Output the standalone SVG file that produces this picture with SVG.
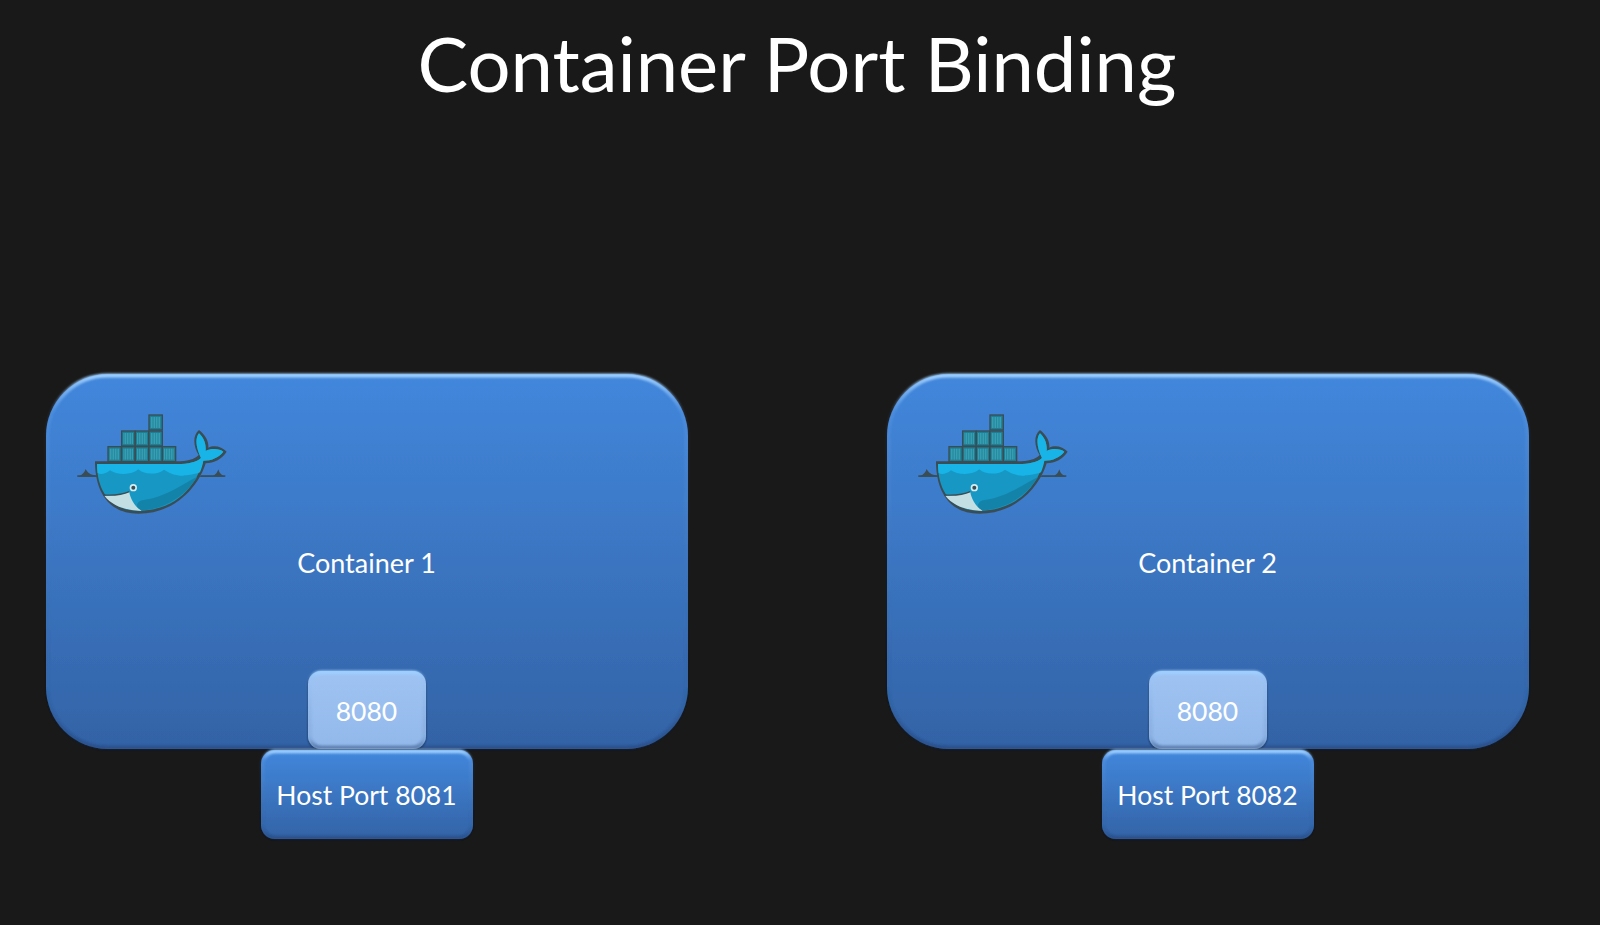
<svg xmlns="http://www.w3.org/2000/svg" width="1600" height="925" viewBox="0 0 1600 925">
<style>
text{font-family:Lato,"Open Sans","Noto Sans",sans-serif;fill:#fff;text-anchor:middle}
.lbl{font-size:27px}
.num{font-size:26.500px}
.host{font-size:26.500px}
.title{font-size:76px}
.box{fill:url(#blue)}
.port{fill:url(#light)}
.hi{fill:none;stroke:url(#rim);stroke-width:4;filter:url(#soft)}
.c1{fill:#1c7f96}
</style>
<defs>
<linearGradient id="blue" x1="0" y1="0" x2="0" y2="1"><stop offset="0" stop-color="#4287dc"/><stop offset="1" stop-color="#3363a6"/></linearGradient>
<linearGradient id="light" x1="0" y1="0" x2="0" y2="1"><stop offset="0" stop-color="#9fc4f3"/><stop offset="1" stop-color="#92b8ea"/></linearGradient>
<linearGradient id="rim" x1="0" y1="0" x2="0" y2="1"><stop offset="0" stop-color="#a0d0ff"/><stop offset=".1" stop-color="#8cc0fa" stop-opacity=".14"/><stop offset=".88" stop-color="#1f3f70" stop-opacity=".1"/><stop offset="1" stop-color="#1f3f70" stop-opacity=".5"/></linearGradient>
<filter id="sh" x="-5%" y="-5%" width="110%" height="110%"><feDropShadow dx="0" dy="1" stdDeviation="1.200" flood-color="#000" flood-opacity=".5"/></filter>
<filter id="soft" x="-5%" y="-5%" width="110%" height="110%"><feGaussianBlur stdDeviation=".9"/></filter>
<g id="cell"><rect x="-2" y="-2" width="44" height="49" fill="#3a4d54"/><rect x="2" y="2" width="36" height="41" class="c1"/><path d="M7 6v33M12 6v33M17 6v33M22 6v33M27 6v33M32 6v33" stroke="#4fb6c8" stroke-width="2"/></g>
<g id="whale" transform="scale(.3333)">
<path d="M110 335C125 332 132 325 137 312C142 322 150 330 170 332L520 332C530 328 532 320 535 313C538 325 545 331 556 335Z" fill="#3a4d54"/>
<use href="#cell" x="204" y="245"/><use href="#cell" x="245" y="245"/><use href="#cell" x="286" y="245"/><use href="#cell" x="327" y="245"/><use href="#cell" x="367" y="245"/>
<use href="#cell" x="245" y="198"/><use href="#cell" x="286" y="198"/><use href="#cell" x="327" y="198"/>
<use href="#cell" x="327" y="150"/>
<path id="hull" d="M165 289L410 289C440 289 465 283 476 270C461 245 456 213 477 195C497 210 507 230 505 248C522 239 547 245 560 260C547 282 522 294 497 295C482 347 420 446 295 446C198 446 165 370 165 289Z" fill="#3a4d54"/>
<path d="M171 297L412 297C445 297 470 291 483 279C469 250 464 222 477 205C491 218 499 236 497 258C515 248 540 252 550 260C538 277 515 287 490 287C470 355 415 437 295 437C205 437 171 370 171 297Z" fill="#1798c4"/>
<path d="M171 297L412 297C445 297 470 291 483 279C469 250 464 222 477 205C491 218 499 236 497 258C515 248 540 252 550 260C538 277 515 287 490 287C488 300 484 312 480 322C460 330 440 330 430 332C405 332 390 325 372 314C355 328 315 332 295 313C275 332 230 330 210 316C195 328 182 330 173 324C172 315 171 305 171 297Z" fill="#18b4e8"/>
<path d="M300 437C400 430 450 370 472 335C430 355 380 395 310 405C290 408 285 425 300 437Z" fill="#1483aa"/>
<path d="M193 392C220 392 250 388 268 380C270 400 285 425 305 438C250 435 215 420 193 392Z" fill="#c3dfe3"/>
<path d="M190 390C220 392 250 388 268 380" fill="none" stroke="#3a4d54" stroke-width="4"/>
<circle cx="280" cy="368" r="11" fill="#d4edf1"/><circle cx="280" cy="368" r="6" fill="#3a4d54"/>
<path d="M112 333H172M482 333H556" stroke="#3a4d54" stroke-width="4"/>
</g>
</defs>
<rect width="1600" height="925" fill="#191919"/>
<text class="title" x="797" y="92">Container Port Binding</text>
<g id="connectors"></g>
<g id="container-1">
<rect class="box" x="46" y="374" width="642" height="375" rx="62" filter="url(#sh)"/>
<rect class="hi" x="47.500" y="375.500" width="639" height="372" rx="60"/>
<use href="#whale" x="40" y="365"/>
<text class="lbl" x="366.500" y="573">Container 1</text>
</g>
<g id="port-1">
<rect class="port" x="308" y="671" width="118" height="78" rx="13" filter="url(#sh)"/>
<rect class="hi" x="309.500" y="672.500" width="115" height="75" rx="12"/>
<text class="num" x="366.500" y="721">8080</text>
</g>
<g id="host-1">
<rect class="box" x="261" y="750" width="212" height="89" rx="14" filter="url(#sh)"/>
<rect class="hi" x="262.500" y="751.500" width="209" height="86" rx="13"/>
<text class="host" x="366.500" y="805">Host Port 8081</text>
</g>
<g id="container-2">
<rect class="box" x="887" y="374" width="642" height="375" rx="62" filter="url(#sh)"/>
<rect class="hi" x="888.500" y="375.500" width="639" height="372" rx="60"/>
<use href="#whale" x="881" y="365"/>
<text class="lbl" x="1207.500" y="573">Container 2</text>
</g>
<g id="port-2">
<rect class="port" x="1149" y="671" width="118" height="78" rx="13" filter="url(#sh)"/>
<rect class="hi" x="1150.500" y="672.500" width="115" height="75" rx="12"/>
<text class="num" x="1207.500" y="721">8080</text>
</g>
<g id="host-2">
<rect class="box" x="1102" y="750" width="212" height="89" rx="14" filter="url(#sh)"/>
<rect class="hi" x="1103.500" y="751.500" width="209" height="86" rx="13"/>
<text class="host" x="1207.500" y="805">Host Port 8082</text>
</g>
</svg>
